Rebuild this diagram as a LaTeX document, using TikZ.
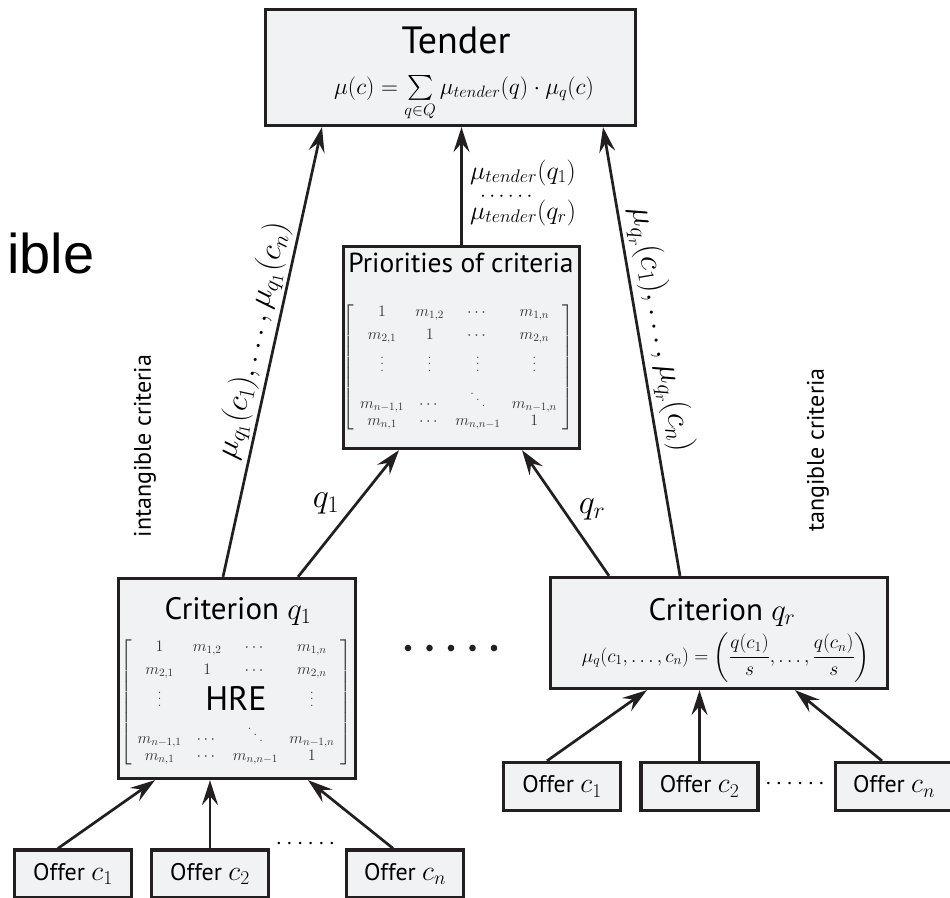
\documentclass[tikz,border=0pt]{standalone}
\usepackage{fix-cm}
\usepackage{amsmath}
\usepackage[no-math]{fontspec}
\usetikzlibrary{arrows.meta}
\newfontfamily\boxfont{PT Sans}
\newfontfamily\bigfont{Liberation Sans}
\definecolor{boxfill}{RGB}{241,242,244}
\definecolor{ink}{RGB}{35,31,32}
\newcommand{\setpx}[1]{\fontsize{#1}{#1}\selectfont}
% dots of the comparison matrices
\newcommand{\mvdots}{\mathord{\smash{\vbox{\baselineskip6.5pt\lineskiplimit0pt\hbox{.}\hbox{.}\hbox{.}}}}}
\newcommand{\mddots}{\smash{\mkern1mu\raise14pt\hbox{.}\mkern2mu\raise8pt\hbox{.}\mkern2mu\raise2pt\hbox{.}\mkern1mu}}
% pairwise comparison matrix; the argument is its third row
\newcommand{\pairwise}[1]{\fontsize{16}{17}\selectfont\setlength{\arraycolsep}{5.7pt}%
$\left[\begin{array}{cccc}
1 & m_{1,2} & \cdots & m_{1,n}\\[6pt]
m_{2,1} & 1 & \cdots & m_{2,n}\\[15pt]
#1\\[20pt]
m_{n-1,1} & \cdots & \mddots & m_{n-1,n}\\
m_{n,1} & \cdots & m_{n,n-1} & 1
\end{array}\right]$}
\newcommand{\offertext}[1]{Offer {\setpx{28}$#1$}}
\tikzset{
  box/.style={draw=ink, line width=3.3pt, fill=boxfill, inner sep=0pt},
  offer/.style={box, minimum width=117pt, minimum height=48pt, font={\boxfont\setpx{24}}},
  link/.style={draw=ink, line width=2.7pt, -{Stealth[length=25pt,width=16pt,inset=9pt]}},
  title/.style={anchor=base, inner sep=0pt, font={\boxfont\setpx{31}}},
  mat/.style={inner sep=0pt, text=black!80},
  side/.style={rotate=90, inner sep=0pt, font={\boxfont\setpx{24}}},
}
\begin{document}
\begin{tikzpicture}[x=1pt, y=-1pt]
\useasboundingbox (0,0) rectangle (950,897);
\clip (0,0) rectangle (950,897);

% top level: the tender
\node[box, minimum width=370pt, minimum height=116pt] (tender) at (450.5,67.5) {};
\node[anchor=base, inner sep=0pt, font={\boxfont\setpx{38}}] (tendertitle) at (456,53) {Tender};
\node[anchor=base, inner sep=0pt, font={\setpx{23.5}}] (tenderformula) at (464,94)
  {$\mu(c)=\sum\limits_{q\in Q}\mu_{tender}(q)\cdot\mu_q(c)$};

% priorities of the criteria
\node[box, minimum width=236pt, minimum height=202pt] (prio) at (461.5,347.5) {};
\node[title, font={\boxfont\setpx{27.5}}] (priotitle) at (461,272) {Priorities of criteria};
\node[mat] (priomat) at (458.5,367.5) {\pairwise{\mvdots & \mvdots & \mvdots & \mvdots}};

% intangible criterion
\node[box, minimum width=237pt, minimum height=200pt] (ql) at (237,678.5) {};
\node[title] (qltitle) at (238,619) {Criterion $q_1$};
\node[mat] (qlmat) at (236,702.5) {\pairwise{\mvdots & & & \mvdots}};
\node[inner sep=0pt, font={\boxfont\setpx{34}}] (hre) at (236,698) {HRE};

% tangible criterion
\node[box, minimum width=337pt, minimum height=111pt] (qr) at (719,633) {};
\node[title] (qrtitle) at (722,620) {Criterion $q_r$};
\node[anchor=base, inner sep=0pt, font={\setpx{19.5}}] (qrformula) at (726,662)
  {$\mu_q(c_1,\dots,c_n)=\left(\dfrac{q(c_1)}{s},\dots,\dfrac{q(c_n)}{s}\right)$};

% offers
\node[offer] (ol1) at (73,874) {\offertext{c_1}};
\node[offer] (ol2) at (210,874) {\offertext{c_2}};
\node[offer] (oln) at (405,874) {\offertext{c_n}};
\node[offer] (or1) at (562,786.5) {\offertext{c_1}};
\node[offer] (or2) at (699.5,786.5) {\offertext{c_2}};
\node[offer] (orn) at (894,786.5) {\offertext{c_n}};
\node[anchor=base, inner sep=0pt, font={\setpx{24}}] (ldots) at (307.5,849) {$\cdots\cdots$};
\node[anchor=base, inner sep=0pt, font={\setpx{24}}] (rdots) at (797,789) {$\cdots\cdots$};

% offers feed the criteria
\draw[link] ([xshift=-15pt]ol1.north) -- ([xshift=-82pt]ql.south);
\draw[link] (ol2.north) -- (ol2.north |- ql.south);
\draw[link] ([xshift=-12pt]oln.north) -- ([xshift=71pt]ql.south);
\draw[link] ([xshift=-15pt]or1.north) -- ([xshift=-72pt]qr.south);
\draw[link] (or2.north) -- (or2.north |- qr.south);
\draw[link] ([xshift=-12pt]orn.north) -- ([xshift=76pt]qr.south);

% criteria feed the priorities and the tender
\draw[link] ([xshift=61pt]ql.north) -- ([xshift=-62.5pt]prio.south);
\draw[link] ([xshift=-110pt]qr.north) -- ([xshift=60.5pt]prio.south);
\node[inner sep=0pt, font={\setpx{34}}] (qllab) at (326,503) {$q_1$};
\node[inner sep=0pt, font={\setpx{34}}] (qrlab) at (592,509) {$q_r$};

\draw[link] ([xshift=-14pt]ql.north) --
  node[sloped, above, pos=0.515, inner sep=3pt, font={\setpx{32}}] (lmu)
  {$\mu_{q_1}(c_1),\ldots,\mu_{q_1}(c_n)$}
  ([xshift=-128.5pt]tender.south);
\draw[link] ([xshift=-39pt]qr.north) --
  node[sloped, above, pos=0.54, inner sep=4pt, font={\setpx{33}}] (rmu)
  {$\mu_{q_r}(c_1),\ldots,\mu_{q_r}(c_n)$}
  ([xshift=152.5pt]tender.south);

\draw[link] (prio.north) -- (prio.north |- tender.south);
\node[anchor=base, inner sep=0pt, font={\setpx{26}}] (mut1) at (523,179) {$\mu_{tender}(q_1)$};
\node[anchor=base, inner sep=0pt, font={\setpx{21}}] (mutd) at (508,201) {$\cdots\cdots$};
\node[anchor=base, inner sep=0pt, font={\setpx{26}}] (mutr) at (523,219) {$\mu_{tender}(q_r)$};

% side notes
\node[side] (intang) at (145,446) {intangible criteria};
\node[side] (tang) at (818,450) {tangible criteria};
\node[anchor=base west, inner sep=0pt, font={\bigfont\setpx{56}}] (ible) at (7,273) {ible};

% ellipsis between the criteria
\foreach \k in {0,...,4} \fill[ink] ({408+21.5*\k},648) circle (3.3pt);
\end{tikzpicture}
\end{document}
